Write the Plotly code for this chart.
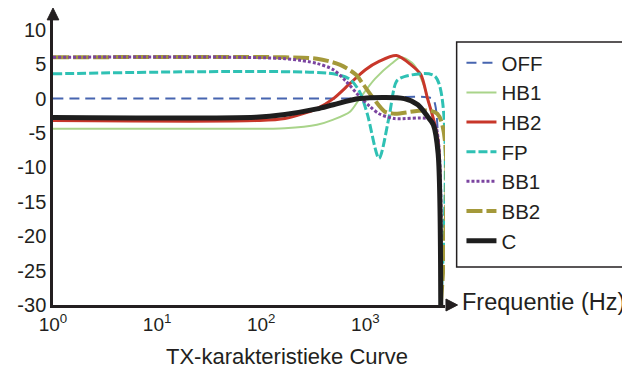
import plotly.graph_objects as go

# frequency points (Hz) and gain (dB)
off_f = [1, 100, 1000, 4400, 4700, 5000, 5300]
off_db = [0, 0, 0, 0, -1.0, -6, -30]

hb1_f = [1, 58, 169, 343, 493, 712, 881, 1242, 1790, 2218, 2933, 3632, 4218, 4907, 5300]
hb1_db = [-4.4, -4.4, -4.3, -3.8, -3.05, -1.9, 0, 2.9, 5.1, 6.0, 4.9, 2.0, -1.45, -6.25, -30]

hb2_f = [1, 89, 169, 343, 493, 712, 1002, 1353, 1992, 2750, 3406, 3956, 4499, 5012, 5300]
hb2_db = [-3.2, -3.2, -2.9, -1.45, 0, 2.2, 4.2, 5.4, 6.25, 4.9, 3.5, 0, -2.9, -6.25, -30]

fp_f = [1, 493, 712, 881, 1047, 1353, 1678, 1992, 2366, 4697, 5300]
fp_db = [3.6, 3.6, 2.8, 1.0, -2.3, -8.7, -2.9, 2.5, 3.2, 3.2, -30]

bb1_f = [1, 169, 343, 493, 653, 881, 1117, 1353, 1909, 3956, 4697, 5300]
bb1_db = [6.0, 5.8, 5.1, 4.2, 2.5, 0.3, -1.2, -2.2, -2.9, -2.9, -3.8, -30]

bb2_f = [1, 169, 343, 574, 809, 940, 1200, 1539, 1909, 4907, 5300]
bb2_db = [6.0, 6.0, 5.8, 4.9, 3.5, 2.2, 0, -1.9, -2.2, -2.2, -30]

c_f = [1, 89, 169, 343, 493, 881, 2366, 3194, 3956, 4499, 5000, 5300]
c_db = [-2.75, -2.7, -2.3, -1.5, -0.9, 0, 0, -0.9, -2.6, -3.8, -8, -30]

y_ticks = [10, 5, 0, -5, -10, -15, -20, -25, -30]
x_ticks = [1, 10, 100, 1000]
x_ticktext = ["10<sup>0</sup>", "10<sup>1</sup>", "10<sup>2</sup>", "10<sup>3</sup>"]

FONT = "Arial, Liberation Sans, sans-serif"

# name, x, y, color, width, dash, legend rank (draw order differs from legend order)
series = [
    ("OFF", off_f, off_db, "#4765B0", 2, "10px,6px", 1),
    ("HB1", hb1_f, hb1_db, "#A9D48A", 2, "solid", 2),
    ("HB2", hb2_f, hb2_db, "#C8372A", 3, "solid", 3),
    ("FP", fp_f, fp_db, "#2FC1B4", 3, "9px,3px", 4),
    ("BB2", bb2_f, bb2_db, "#A4993A", 4, "16px,4px", 6),
    ("BB1", bb1_f, bb1_db, "#7B44A0", 3, "3px,2px", 5),
    ("C", c_f, c_db, "#1E1E1E", 5, "solid", 7),
]

fig = go.Figure()
for name, f, db, col, w, dash, rank in series:
    fig.add_trace(go.Scatter(
        x=f, y=db, name=name, mode="lines", legendrank=rank,
        line=dict(color=col, width=w, dash=dash, shape="spline", smoothing=0.8),
    ))

# the page body adds an 8px offset, so the figure is 8px smaller than the window
fig.update_layout(
    width=622, height=361,
    margin=dict(l=33, r=185, t=9, b=64),
    paper_bgcolor="white", plot_bgcolor="white",
    font=dict(family=FONT, size=20, color="#231F20"),
    legend=dict(x=1.042, y=0.91, xanchor="left", yanchor="top",
                bgcolor="rgba(0,0,0,0)", borderwidth=0,
                font=dict(size=20.5)),
)
fig.update_xaxes(type="log", range=[0, 3.765], tickvals=x_ticks, ticktext=x_ticktext,
                 showgrid=False, zeroline=False, showline=True, linewidth=2.5,
                 linecolor="#231F20", ticks="", tickfont=dict(size=19))
fig.update_yaxes(range=[-30, 11.86], tickvals=y_ticks, ticktext=[str(v) for v in y_ticks],
                 showgrid=False, zeroline=False, showline=True, linewidth=2.5,
                 linecolor="#231F20", ticks="", tickfont=dict(size=20))

# legend frame, axis arrowheads
fig.add_shape(type="rect", xref="paper", yref="paper", x0=1.0297, x1=1.47, y0=0.132, y1=0.913,
              line=dict(color="#231F20", width=1.5), fillcolor="rgba(0,0,0,0)")
fig.add_shape(type="path", xref="paper", yref="paper",
              path="M -0.0149 0.99 L 0 1.031 L 0.0149 0.99 Z",
              fillcolor="#231F20", line=dict(color="#231F20", width=1))
fig.add_shape(type="path", xref="paper", yref="paper",
              path="M 1.0025 -0.0208 L 1.032 0 L 1.0025 0.0208 Z",
              fillcolor="#231F20", line=dict(color="#231F20", width=1))

fig.add_annotation(text="Frequentie (Hz)", xref="paper", yref="paper", x=1.037, y=0.012,
                   xanchor="left", yanchor="middle", showarrow=False, font=dict(size=23.5))
fig.add_annotation(text="TX-karakteristieke Curve", xref="paper", yref="paper", x=0.597, y=-0.18,
                   xanchor="center", yanchor="middle", showarrow=False, font=dict(size=22))

fig.write_html("out.html")
